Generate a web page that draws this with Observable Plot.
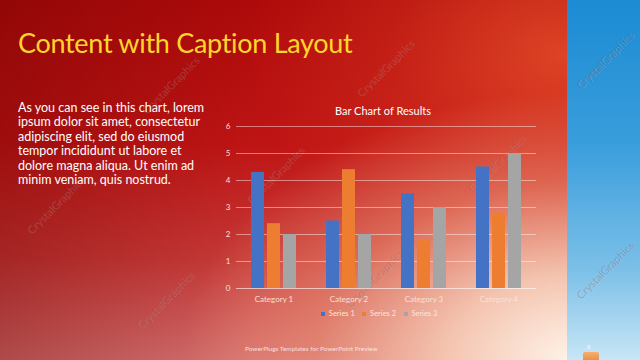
<!DOCTYPE html>
<html><head><meta charset="utf-8">
<script src="https://cdn.jsdelivr.net/npm/d3@7"></script>
<script src="https://cdn.jsdelivr.net/npm/@observablehq/plot@0.6"></script>
<style>
html,body{margin:0;padding:0;}
body{width:640px;height:360px;overflow:hidden;position:relative;font-family:Lato,"Open Sans",sans-serif;
background:
 radial-gradient(ellipse 70% 85% at 90% 100%, rgba(255,244,234,1) 0%, rgba(247,206,184,0.92) 28%, rgba(236,150,120,0.55) 58%, rgba(225,100,80,0) 88%),
 radial-gradient(ellipse 55% 70% at 88% 15%, rgba(235,85,45,0.75) 0%, rgba(230,70,40,0.3) 50%, rgba(220,50,30,0) 90%),
 linear-gradient(to right, rgba(100,0,0,0.35) 0%, rgba(100,0,0,0) 40%),
 linear-gradient(to bottom, #ad0a0a 0%, #bf1414 40%, #c83a38 72%, #d67272 100%);}
#strip{position:absolute;left:567px;top:0;width:73px;height:360px;background:linear-gradient(to bottom,#1b8bd3 0%,#3a9edc 40%,#7cc0e8 75%,#c8e6f5 100%);}
#title{position:absolute;left:18px;top:27px;font-size:27px;letter-spacing:-0.3px;line-height:32px;color:#ffd52b;white-space:nowrap;}
#body{position:absolute;left:18px;top:100.5px;font-size:12.5px;line-height:14.5px;color:#fff;white-space:nowrap;}
#ctitle{position:absolute;left:215px;width:336px;top:104px;text-align:center;font-size:11px;color:#fff;}
#chart{position:absolute;left:215px;top:118px;}
#legend{position:absolute;left:215px;width:336px;top:309px;display:flex;justify-content:center;}
#legend .lg, #legend .lg-swatches{font-size:7.5px !important;font-family:Lato,sans-serif !important;color:#fde4dc !important;min-height:0 !important;margin:0 !important;}
#footer{position:absolute;left:245px;top:345px;font-size:6.5px;color:rgba(255,240,235,0.85);white-space:nowrap;}
#pnum{position:absolute;left:587px;top:343px;font-size:6px;color:rgba(255,255,255,0.8);}
#cube{position:absolute;left:583px;top:352px;width:16px;height:10px;background:linear-gradient(to bottom,#f6b070,#e48a40);border-radius:2px;}
.wm{position:absolute;font-size:11px;color:rgba(120,50,50,0.28);text-shadow:0.5px 0.5px 0 rgba(255,255,255,0.18);transform:translate(-50%,-50%) rotate(-45deg);white-space:nowrap;}
</style></head>
<body>
<div id="strip"></div>
<div class="wm" style="left:170px;top:85px">CrystalGraphics</div>
<div class="wm" style="left:385px;top:68px">CrystalGraphics</div>
<div class="wm" style="left:605px;top:60px">CrystalGraphics</div>
<div class="wm" style="left:497px;top:163px">CrystalGraphics</div>
<div class="wm" style="left:275px;top:175px">CrystalGraphics</div>
<div class="wm" style="left:55px;top:205px">CrystalGraphics</div>
<div class="wm" style="left:375px;top:278px">CrystalGraphics</div>
<div class="wm" style="left:165px;top:300px">CrystalGraphics</div>
<div class="wm" style="left:605px;top:270px">CrystalGraphics</div>
<div id="title">Content with Caption Layout</div>
<div id="body">As you can see in this chart, lorem<br>ipsum dolor sit amet, consectetur<br>adipiscing elit, sed do eiusmod<br>tempor incididunt ut labore et<br>dolore magna aliqua. Ut enim ad<br>minim veniam, quis nostrud.</div>
<div id="ctitle">Bar Chart of Results</div>
<div id="chart"></div>
<div id="legend"></div>
<div id="footer">PowerPlugs Templates for PowerPoint Preview</div>
<div id="pnum">8</div>
<div id="cube"></div>
<script>
const categories = ["Category 1","Category 2","Category 3","Category 4"];
const series = ["Series 1","Series 2","Series 3"];
const series1 = [4.3, 2.5, 3.5, 4.5];
const series2 = [2.4, 4.4, 1.8, 2.8];
const series3 = [2, 2, 3, 5];
const yTicks = [0,1,2,3,4,5,6];
const colors = ["#4472c4","#ed7d31","#a5a5a5"];

const values = [series1, series2, series3];
const data = categories.flatMap((c,i) => values.map((s,j) => ({category:c, series:series[j], value:s[i]})));

const chart = Plot.plot({
  width:330, height:200, marginLeft:20, marginRight:9, marginTop:8, marginBottom:30,
  style:{background:"transparent", fontFamily:"Lato, sans-serif", fontSize:"8px", color:"#f8e0d8", overflow:"visible"},
  fx:{domain:categories, padding:0, label:null, axis:"bottom", tickSize:0, tickPadding:8},
  x:{domain:series, axis:null, paddingInner:0.2, paddingOuter:0.82},
  y:{domain:[0,6], ticks:yTicks, tickFormat:d3.format("d"), label:null, tickSize:0, tickPadding:6},
  color:{domain:series, range:colors},
  marks:[
    Plot.ruleY(yTicks.slice(1), {stroke:"#ffffff", strokeOpacity:0.45}),
    Plot.ruleY([0], {stroke:"#ffffff", strokeOpacity:0.6}),
    Plot.barY(data, {fx:"category", x:"series", y:"value", fill:"series"})
  ]
});
document.getElementById("chart").appendChild(chart);

const legend = Plot.legend({color:{domain:series, range:colors}, legend:"swatches", swatchSize:4, className:"lg"});
document.getElementById("legend").appendChild(legend);
</script>
</body></html>
